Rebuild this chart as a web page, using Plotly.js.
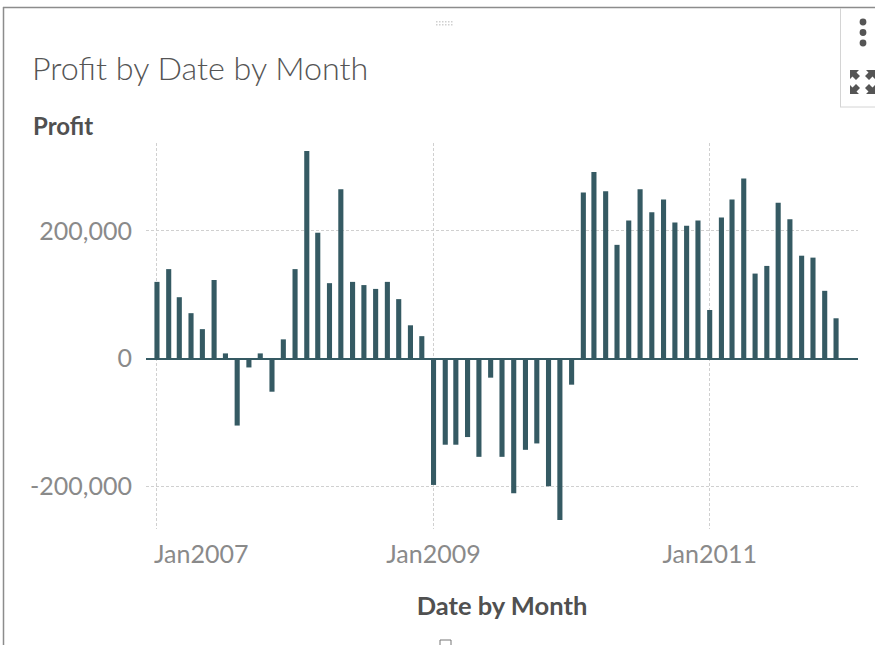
<!DOCTYPE html>
<html>
<head>
<meta charset="utf-8">
<script src="https://cdn.plot.ly/plotly-3.0.1.min.js"></script>
<style>html,body{margin:0;padding:0;background:#fff;overflow:hidden}#c{width:875px;height:645px}</style>
</head>
<body>
<div id="c"></div>
<script>
const years = [2007, 2008, 2009, 2010, 2011];
const profit2007 = [120000, 140000, 96000, 71000, 46000, 123000, 8000, -105000, -14000, 8000, -52000, 30000];
const profit2008 = [140000, 325000, 197000, 118000, 265000, 120000, 115000, 109000, 120000, 93000, 52000, 35000];
const profit2009 = [-198000, -135000, -135000, -123000, -154000, -30000, -154000, -211000, -143000, -133000, -200000, -253000];
const profit2010 = [-41000, 260000, 292000, 262000, 178000, 216000, 265000, 229000, 249000, 213000, 208000, 216000];
const profit2011 = [76000, 221000, 249000, 282000, 133000, 145000, 244000, 218000, 161000, 158000, 106000, 63000];
const yTickVals = [-200000, 0, 200000];
const yTickText = ['-200,000', '0', '200,000'];
const xTickVals = ['2007-01-01', '2009-01-01', '2011-01-01'];
const xTickText = ['', 'Jan2009', 'Jan2011'];
const firstTickLabel = 'Jan2007';

const profit = [].concat(profit2007, profit2008, profit2009, profit2010, profit2011);
const months = [];
years.forEach(y => { for (let m = 1; m <= 12; m++) months.push(y + '-' + String(m).padStart(2, '0') + '-01'); });

const font = 'Lato, "Open Sans", sans-serif';
const tickColor = '#8a8a8a';
const darkText = '#505050';
const barColor = '#355a63';
const frameColor = '#8c8c8c';
const boxColor = '#d4d4d4';
const iconColor = '#555555';

const W = 875, H = 645, mL = 146, mR = 17, mT = 143, mB = 116;
const px = v => (v - mL) / (W - mL - mR), py = v => 1 - (v - mT) / (H - mT - mB);
function rect(x0, y0, x1, y1, line, fill, w) {
  return {type: 'rect', xref: 'paper', yref: 'paper', x0: px(x0), x1: px(x1), y0: py(y0), y1: py(y1),
          line: {color: line, width: w === undefined ? 1 : w}, fillcolor: fill || 'rgba(0,0,0,0)', layer: 'above'};
}
function hline(x0, y0, x1, y1, color, w) {
  return {type: 'line', xref: 'paper', yref: 'paper', x0: px(x0), x1: px(x1), y0: py(y0), y1: py(y1),
          line: {color: color, width: w}, layer: 'above'};
}
function dot(cx, cy, r, color) {
  return {type: 'circle', xref: 'paper', yref: 'paper', x0: px(cx - r), x1: px(cx + r), y0: py(cy + r), y1: py(cy - r),
          line: {width: 0}, fillcolor: color, layer: 'above'};
}
function arrow(x, y, dx, dy) {
  const pts = [[x, y], [x + dx * 9, y], [x + dx * 6.5, y + dy * 2.5], [x + dx * 10, y + dy * 6], [x + dx * 6, y + dy * 10], [x + dx * 2.5, y + dy * 6.5], [x, y + dy * 9]];
  return {type: 'path', xref: 'paper', yref: 'paper',
          path: pts.map((q, i) => (i ? 'L' : 'M') + px(q[0]) + ',' + py(q[1])).join(' ') + ' Z',
          line: {width: 0}, fillcolor: iconColor, layer: 'above'};
}

const shapes = [
  hline(3, 7.5, 875, 7.5, frameColor, 1.5),
  hline(3.5, 7, 3.5, 645, frameColor, 1.5),
  hline(840.5, 8, 840.5, 107, boxColor, 1),
  hline(840, 107, 875, 107, boxColor, 1),
  dot(863, 22, 3.4, iconColor), dot(863, 32.5, 3.4, iconColor), dot(863, 43, 3.4, iconColor),
  arrow(850, 70, 1, 1), arrow(875, 70, -1, 1), arrow(850, 94, 1, -1), arrow(875, 94, -1, -1),
  rect(440, 640, 451, 650, '#777777', '#ffffff', 1)
];
[436, 439, 442, 445, 448, 451].forEach(x => {
  [21, 24].forEach(y => shapes.push(rect(x, y, x + 1.5, y + 1.5, '#d0d0d0', '#d0d0d0', 0)));
});

Plotly.newPlot('c', [{
  type: 'bar',
  x: months,
  y: profit,
  width: 13.5 * 24 * 3600 * 1000,
  marker: {color: barColor, line: {width: 0}},
  hoverinfo: 'x+y'
}], {
  width: W, height: H,
  paper_bgcolor: '#ffffff', plot_bgcolor: '#ffffff',
  margin: {l: mL, r: mR, t: mT, b: mB, pad: 0},
  showlegend: false,
  title: {text: 'Profit by Date by Month', x: 32 / W, xref: 'container', xanchor: 'left',
          y: 1 - 69 / H, yref: 'container', yanchor: 'middle',
          font: {family: font, size: 32.3, color: '#555555', weight: 300}},
  xaxis: {
    type: 'date',
    range: ['2006-12-03', '2012-01-28'],
    tickmode: 'array', tickvals: xTickVals, ticktext: xTickText,
    showgrid: true, gridcolor: '#d0d0d0', gridwidth: 1, griddash: '3px,2px',
    zeroline: false, showline: false, ticks: '',
    tickfont: {family: font, size: 25, color: tickColor},
    ticklabelstandoff: 8,
    title: {text: 'Date by Month', standoff: 30, font: {family: font, size: 25.5, color: darkText, weight: 700}},
    fixedrange: true
  },
  yaxis: {
    range: [-267000, 337500],
    tickmode: 'array', tickvals: yTickVals, ticktext: yTickText,
    showgrid: true, gridcolor: '#d0d0d0', gridwidth: 1, griddash: '3px,2px',
    zeroline: true, zerolinecolor: barColor, zerolinewidth: 2,
    showline: false, ticks: '',
    tickfont: {family: font, size: 25, color: tickColor},
    ticklabelstandoff: 13,
    fixedrange: true
  },
  annotations: [
    {text: 'Profit', xref: 'paper', yref: 'paper', x: px(31), y: py(125), xanchor: 'left', yanchor: 'middle',
     showarrow: false, font: {family: font, size: 24, color: darkText, weight: 700}},
    {text: firstTickLabel, xref: 'paper', yref: 'paper', x: px(152), y: py(553), xanchor: 'left', yanchor: 'middle',
     showarrow: false, font: {family: font, size: 25, color: tickColor}}
  ],
  shapes: shapes
}, {displayModeBar: false, responsive: false});
</script>
</body>
</html>
